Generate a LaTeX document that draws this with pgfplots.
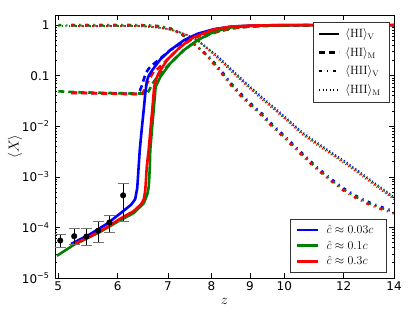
\documentclass[border=0pt]{standalone}
\usepackage[no-math]{fontspec}
\setmainfont{DejaVu Sans}
\usepackage{pgfplots}
\pgfplotsset{compat=1.18}
\definecolor{mblue}{rgb}{0,0,1}
\definecolor{mgreen}{rgb}{0,0.5,0}
\definecolor{mred}{rgb}{1,0,0}
\pgfplotsset{
 solidl/.style={line width=2.6pt, line join=round},
 dashl/.style={line width=2.6pt, dash pattern=on 6pt off 4pt},
 dashdotl/.style={line width=2.4pt, dash pattern=on 3pt off 5pt on 1pt off 5pt},
 dotl/.style={line width=1.8pt, dash pattern=on 1pt off 2.5pt},
}
\begin{document}
\begin{tikzpicture}
\path[use as bounding box] (-55pt,-35pt) rectangle (360pt,278pt);
\begin{axis}[
  width=339pt, height=263pt, scale only axis,
  xmode=log, ymode=log,
  xmin=4.95, xmax=14, ymin=1e-5, ymax=1.58,
  xtick={5,6,7,8,9,10,12,14},
  xticklabels={5,6,7,8,9,10,12,14},
  minor xtick={},
  ytick={1e-5,1e-4,1e-3,1e-2,0.1,1},
  yticklabels={10\textsuperscript{−5},10\textsuperscript{−4},10\textsuperscript{−3},10\textsuperscript{−2},0.1,1},
  ticklabel style={font=\fontsize{12}{14}\selectfont},
  yticklabel style={xshift=-2pt},
  /pgf/number format/assume math mode=true,
  axis line style={black, line width=0.7pt},
  tick style={black, line width=0.6pt},
  major tick length=5pt, minor tick length=2.5pt,
  xlabel={$z$}, xlabel style={font=\fontsize{14}{16}\selectfont, at={(axis description cs:0.5,-0.09)}, anchor=center},
  ylabel={$\langle X\rangle$}, ylabel style={font=\fontsize{15}{17}\selectfont, at={(axis description cs:-0.118,0.5)}, anchor=center},
  legend image code/.code={\draw[#1] (0pt,0pt) -- (20pt,0pt);},
  legend cell align=left,
  legend style={at={(axis description cs:0.988,0.975)}, anchor=north east,
    draw=black!80, line width=0.7pt, fill=white,
    font=\fontsize{12}{14}\selectfont, row sep=6pt, inner xsep=4pt, inner ysep=6pt,
    nodes={inner xsep=5pt, inner ysep=1pt}},
]
% ---------- HII_M (dotted)
\addplot[mblue, dotl, forget plot] coordinates {(5.2,0.954)(6.4,0.955)(6.6,0.93)(6.8,0.89)(7.0,0.83)(7.2,0.75)(7.45,0.62)(7.66,0.50)(7.93,0.34)(8.11,0.26)(8.3,0.19)(8.52,0.13)(8.75,0.09)(8.97,0.064)(9.2,0.046)(9.46,0.032)(9.84,0.0195)(10.2,0.0122)(10.57,0.0076)(11.0,0.0050)(11.5,0.0032)(12.0,0.0021)(12.5,0.00137)(13.0,0.00089)(13.5,0.00059)(14.0,0.0004)};
\addplot[mgreen, dotl, forget plot] coordinates {(5.0,0.951)(6.4,0.955)(6.6,0.93)(6.8,0.89)(7.0,0.83)(7.2,0.75)(7.45,0.62)(7.66,0.50)(7.93,0.33)(8.11,0.247)(8.3,0.18)(8.52,0.1235)(8.75,0.0855)(8.97,0.0608)(9.2,0.0437)(9.46,0.0304)(9.84,0.0185)(10.2,0.0116)(10.57,0.0072)(11.0,0.00475)(11.5,0.00304)(12.0,0.002)(12.5,0.0013)(13.0,0.000845)(13.5,0.00056)(14.0,0.00038)};
\addplot[mred, dotl, forget plot] coordinates {(5.2,0.954)(6.4,0.955)(6.6,0.93)(6.8,0.89)(7.0,0.83)(7.2,0.75)(7.45,0.62)(7.66,0.50)(7.93,0.32)(8.11,0.234)(8.3,0.171)(8.52,0.117)(8.75,0.081)(8.97,0.0576)(9.2,0.0414)(9.46,0.0288)(9.84,0.0176)(10.2,0.011)(10.57,0.00684)(11.0,0.0045)(11.5,0.00288)(12.0,0.00189)(12.5,0.00123)(13.0,0.0008)(13.5,0.00053)(14.0,0.00036)};
% ---------- HII_V (dash-dot)
\addplot[mblue, dashdotl, forget plot] coordinates {(5.2,1.0)(6.4,0.998)(6.6,0.985)(6.8,0.95)(7.05,0.86)(7.3,0.66)(7.5,0.48)(7.7,0.35)(7.9,0.255)(8.1,0.17)(8.3,0.11)(8.5,0.07)(8.75,0.044)(9.0,0.029)(9.3,0.019)(9.6,0.0115)(10.0,0.0065)(10.5,0.0032)(11.0,0.00165)(11.5,0.00095)(12.0,0.00059)(12.5,0.00041)(13.0,0.00031)(13.5,0.00025)(14.0,0.00021)};
\addplot[mgreen, dashdotl, forget plot] coordinates {(5.0,1.0)(6.4,0.998)(6.6,0.985)(6.8,0.95)(7.05,0.86)(7.3,0.66)(7.5,0.48)(7.7,0.35)(7.9,0.247)(8.1,0.162)(8.3,0.105)(8.5,0.0665)(8.75,0.0418)(9.0,0.0276)(9.3,0.0181)(9.6,0.0109)(10.0,0.00618)(10.5,0.00304)(11.0,0.00157)(11.5,0.0009)(12.0,0.00056)(12.5,0.00039)(13.0,0.000295)(13.5,0.000238)(14.0,0.0002)};
\addplot[mred, dashdotl, forget plot] coordinates {(5.2,1.0)(6.4,0.998)(6.6,0.985)(6.8,0.95)(7.05,0.86)(7.3,0.66)(7.5,0.48)(7.7,0.35)(7.9,0.24)(8.1,0.153)(8.3,0.099)(8.5,0.063)(8.75,0.0396)(9.0,0.0261)(9.3,0.0171)(9.6,0.01035)(10.0,0.00585)(10.5,0.00288)(11.0,0.00149)(11.5,0.00086)(12.0,0.00053)(12.5,0.00037)(13.0,0.00028)(13.5,0.000225)(14.0,0.00019)};
% ---------- HI_M (dashed)
\addplot[mblue, dashl, forget plot] coordinates {(5.2,0.046)(5.7,0.045)(6.2,0.0437)(6.37,0.0437)(6.42,0.05)(6.46,0.063)(6.50,0.085)(6.54,0.11)(6.58,0.13)(6.63,0.15)(6.70,0.17)(6.84,0.22)(7.05,0.32)(7.35,0.48)(7.66,0.62)(7.93,0.68)(8.11,0.74)(8.52,0.87)(8.97,0.936)(9.46,0.968)(10,0.983)(11,0.995)(12,0.998)(14,0.9996)};
\addplot[mgreen, dashl, forget plot] coordinates {(5.0,0.049)(5.3,0.047)(5.8,0.0455)(6.3,0.0443)(6.55,0.0443)(6.60,0.05)(6.67,0.068)(6.74,0.085)(6.80,0.096)(6.91,0.13)(7.05,0.175)(7.35,0.32)(7.66,0.50)(7.93,0.64)(8.11,0.72)(8.52,0.86)(8.97,0.935)(9.46,0.968)(10,0.983)(11,0.995)(12,0.998)(14,0.9996)};
\addplot[mred, dashl, forget plot] coordinates {(5.2,0.0455)(5.7,0.0445)(6.2,0.0433)(6.47,0.0435)(6.50,0.05)(6.58,0.076)(6.70,0.12)(6.80,0.14)(6.98,0.205)(7.27,0.37)(7.58,0.56)(7.93,0.68)(8.11,0.74)(8.52,0.87)(8.97,0.937)(9.46,0.97)(10,0.984)(11,0.995)(12,0.998)(14,0.9996)};
% ---------- HI_V (solid)
\addplot[mblue, solidl, forget plot] coordinates {(5.2,4.7e-5)(5.5,7.2e-5)(5.8,1.17e-4)(6.05,1.9e-4)(6.25,2.8e-4)(6.33,3.6e-4)(6.37,6e-4)(6.39,1.2e-3)(6.42,3.4e-3)(6.46,9e-3)(6.50,0.022)(6.53,0.045)(6.56,0.078)(6.60,0.10)(6.67,0.128)(6.84,0.21)(7.05,0.32)(7.35,0.50)(7.66,0.67)(8.06,0.83)(8.5,0.93)(9.0,0.971)(9.6,0.9885)(10.0,0.9935)(11.0,0.998)(12.0,0.9994)(14.0,0.9998)};
\addplot[mgreen, solidl, forget plot] coordinates {(4.98,2.75e-5)(5.24,4.5e-5)(5.68,8.1e-5)(6.0,1.3e-4)(6.30,1.92e-4)(6.50,3.0e-4)(6.57,4.5e-4)(6.60,6.4e-4)(6.62,1.5e-3)(6.63,3.4e-3)(6.67,0.01)(6.70,0.021)(6.74,0.06)(6.84,0.095)(7.05,0.175)(7.35,0.32)(7.66,0.50)(8.06,0.74)(8.5,0.90)(9.0,0.96)(9.6,0.985)(10,0.992)(11,0.998)(12,0.9994)(14,0.9998)};
\addplot[mred, solidl, forget plot] coordinates {(5.2,4.4e-5)(5.5,6.5e-5)(5.8,1.0e-4)(6.05,1.5e-4)(6.30,2.1e-4)(6.45,2.9e-4)(6.50,3.6e-4)(6.53,5.5e-4)(6.56,1.6e-3)(6.60,3.6e-3)(6.64,0.01)(6.67,0.021)(6.71,0.06)(6.76,0.09)(6.80,0.111)(6.98,0.204)(7.27,0.37)(7.58,0.58)(8.06,0.82)(8.5,0.935)(9.0,0.974)(9.6,0.99)(10,0.9942)(11,0.9985)(12,0.9995)(14,0.9998)};
% ---------- observational points
\addplot[black, only marks, mark=*, mark size=2.8pt, forget plot,
  error bars/.cd, y dir=both, y explicit,
  error bar style={line width=0.8pt, black},
  error mark options={black!55, line width=1pt, mark size=5.5pt, rotate=90}]
  table[x=z, y=y, y error plus=ep, y error minus=em] {
z y ep em
5.03 5.5e-5 1.7e-5 1.4e-5
5.25 6.7e-5 2.8e-5 2.0e-5
5.45 6.6e-5 3.0e-5 2.3e-5
5.65 8.6e-5 4.6e-5 3.6e-5
5.85 1.25e-4 4.5e-5 4.6e-5
6.10 4.3e-4 3.0e-4 3.0e-4
};
% ---------- legend (line styles)
\addlegendimage{black, line width=2.6pt}
\addlegendentry{$\langle\mathrm{HI}\rangle_{\mathrm{V}}$}
\addlegendimage{black, line width=2.6pt, dash pattern=on 6pt off 4pt}
\addlegendentry{$\langle\mathrm{HI}\rangle_{\mathrm{M}}$}
\addlegendimage{black, line width=2.4pt, dash pattern=on 3pt off 5pt on 1pt off 5pt}
\addlegendentry{$\langle\mathrm{HII}\rangle_{\mathrm{V}}$}
\addlegendimage{black, line width=1.8pt, dash pattern=on 1pt off 2.5pt}
\addlegendentry{$\langle\mathrm{HII}\rangle_{\mathrm{M}}$}
\end{axis}
\begin{axis}[
  width=339pt, height=263pt, scale only axis, hide axis,
  xmin=0, xmax=1, ymin=0, ymax=1,
  legend image code/.code={\draw[#1] (0pt,0pt) -- (21pt,0pt);},
  legend cell align=left,
  legend style={at={(axis description cs:0.979,0.02)}, anchor=south east,
    draw=black!80, line width=0.7pt, fill=white,
    font=\fontsize{12}{14}\selectfont, row sep=4pt, inner xsep=6pt, inner ysep=5pt,
    nodes={inner xsep=7pt, inner ysep=1pt}},
]
\addlegendimage{mblue, line width=2.6pt}
\addlegendentry{$\hat{c}\approx0.03c$}
\addlegendimage{mgreen, line width=2.6pt}
\addlegendentry{$\hat{c}\approx0.1c$}
\addlegendimage{mred, line width=2.6pt}
\addlegendentry{$\hat{c}\approx0.3c$}
\end{axis}
\end{tikzpicture}
\end{document}
